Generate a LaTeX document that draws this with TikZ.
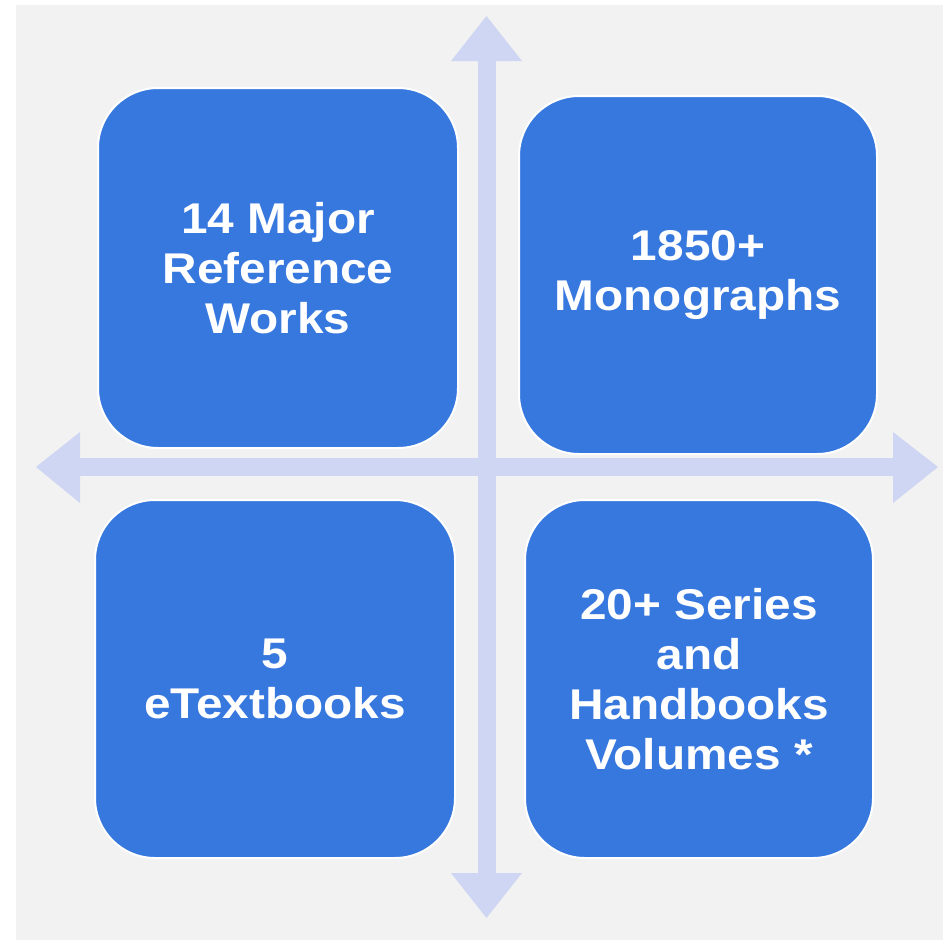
\documentclass[tikz,border=0pt]{standalone}
\usepackage{fontspec}
\setmainfont{Liberation Sans}
\newfontfamily\boxfont[FakeStretch=1.11]{Liberation Sans}
\definecolor{bgray}{RGB}{242,242,242}
\definecolor{boxblue}{RGB}{55,120,223}
\definecolor{arrowlav}{RGB}{207,214,243}
\tikzset{
  quad/.style={draw=white, line width=2pt, fill=boxblue, rounded corners=60pt,
    text=white, align=center, inner sep=0pt,
    font=\boxfont\fontsize{43}{50}\selectfont\bfseries},
  arrowfill/.style={fill=arrowlav, draw=none}
}
\begin{document}
\begin{tikzpicture}[x=1pt,y=-1pt]
\useasboundingbox (0,0) rectangle (943,940);
\fill[white] (0,0) rectangle (943,940);
\fill[bgray] (16,5) rectangle (943,940);
% vertical double arrow
\fill[arrowfill] (478,61) rectangle (496,873);
\fill[arrowfill] (451,61) -- (522,61) -- (486.5,16) -- cycle;
\fill[arrowfill] (451,873) -- (522,873) -- (486.5,918) -- cycle;
% horizontal double arrow
\fill[arrowfill] (80,458) rectangle (893,476);
\fill[arrowfill] (80,432) -- (80,503) -- (36,467) -- cycle;
\fill[arrowfill] (893,432) -- (893,503) -- (938,467) -- cycle;
% boxes
\node[quad, minimum width=360pt, minimum height=360pt] (tl) at (278,268) {14 Major\\Reference\\Works};
\node[quad, minimum width=358pt, minimum height=358pt] (tr) at (698,275) {1850+\\Monographs};
\node[quad, minimum width=360pt, minimum height=358pt] (bl) at (275,679) {5\\eTextbooks};
\node[quad, minimum width=348pt, minimum height=358pt] (br) at (699,679) {20+ Series\\and\\Handbooks\\Volumes *};
\end{tikzpicture}
\end{document}
